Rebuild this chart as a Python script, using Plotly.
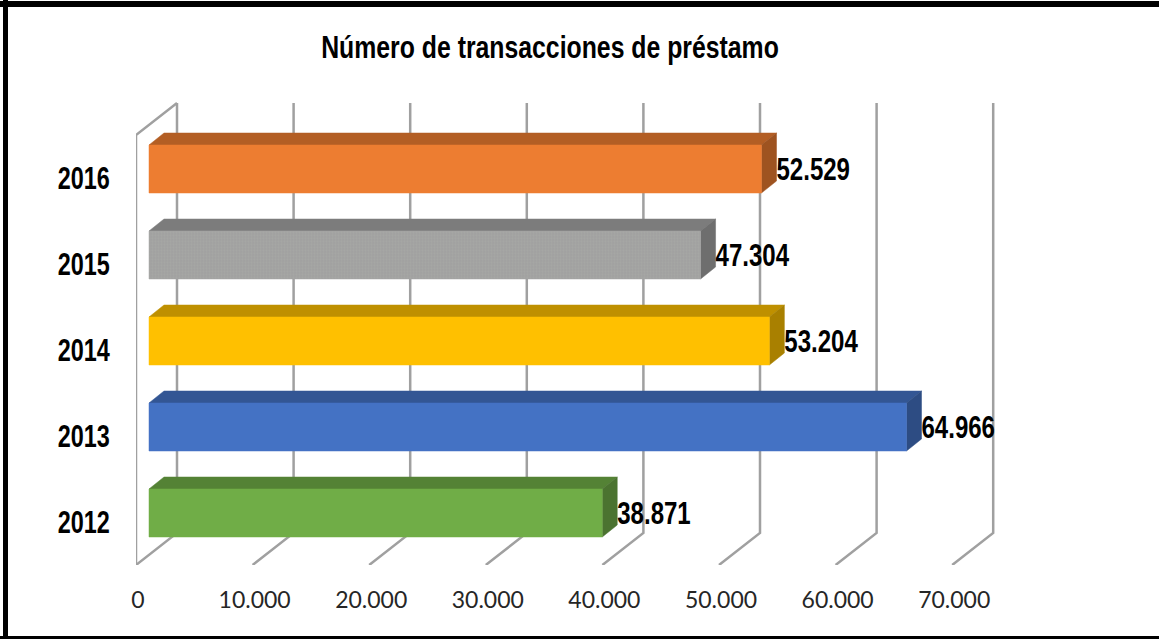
import plotly.graph_objects as go

# ---- data ----
years = [2012, 2013, 2014, 2015, 2016]
values = [38871, 64966, 53204, 47304, 52529]
value_labels = ["38.871", "64.966", "53.204", "47.304", "52.529"]
x_ticks = [0, 10000, 20000, 30000, 40000, 50000, 60000, 70000]
x_tick_labels = ["0", "10.000", "20.000", "30.000", "40.000", "50.000", "60.000", "70.000"]
front_colors = ["#70AD47", "#4472C4", "#FFC000", "#A5A5A5", "#ED7D31"]
top_colors = ["#548235", "#335694", "#BF9000", "#7C7C7C", "#B35E24"]
side_colors = ["#4B7330", "#2D4C83", "#A98000", "#6E6E6E", "#9E5320"]
title_text = "Número de transacciones de préstamo"

# ---- canvas / projection ----
W, H = 1159, 639
PX_L, PX_R, PX_T, PX_B = 136, 1100, 90, 565
PX_PER_X = 116.6 / 10000
PX_PER_Y = 86.0


def dx(px):
    return px / PX_PER_X


def dy(px):
    return px / PX_PER_Y


Y_MIN = 2011.5
Y_MAX = Y_MIN + (PX_B - PX_T) / PX_PER_Y
X_MAX = (PX_R - PX_L) / PX_PER_X

BACK_X, BACK_Y = dx(41), dy(32)       # depth of the walls
BAR_X, BAR_Y = dx(13), dy(9)          # front of the bars
DEPTH_X, DEPTH_Y = dx(15), dy(12)     # bar thickness in depth
BAR_HALF = dy(24)
LABEL_Y = dy(6)
WALL_TOP = 2016.5
BOLD = dict(family="Liberation Sans", size=31, color="#000000", weight="bold")

fig = go.Figure()
GRID = dict(color="#A0A0A0", width=2.5)

# walls
gx, gy = [], []
for t in x_ticks:
    gx += [t, t + BACK_X, t + BACK_X, None]
    gy += [Y_MIN, Y_MIN + BACK_Y, WALL_TOP + BACK_Y, None]
gx += [0, 0, BACK_X]
gy += [Y_MIN, WALL_TOP, WALL_TOP + BACK_Y]
fig.add_trace(go.Scatter(x=gx, y=gy, mode="lines", line=GRID, hoverinfo="skip", showlegend=False))


def poly(xs, ys, color, line=None, pattern=None):
    fig.add_trace(go.Scatter(
        x=xs, y=ys, mode="lines", fill="toself", fillcolor=color,
        line=dict(color=line or color, width=0.5), hoverinfo="skip", showlegend=False,
        fillpattern=pattern,
    ))


for yr, v, fc, tc, sc in zip(years, values, front_colors, top_colors, side_colors):
    x0, x1 = BAR_X, v + BAR_X
    yb, yt = yr + BAR_Y - BAR_HALF, yr + BAR_Y + BAR_HALF
    poly([x0, x1, x1 + DEPTH_X, x0 + DEPTH_X, x0], [yt, yt, yt + DEPTH_Y, yt + DEPTH_Y, yt], tc)
    poly([x1, x1 + DEPTH_X, x1 + DEPTH_X, x1, x1], [yb, yb + DEPTH_Y, yt + DEPTH_Y, yt, yb], sc)
    pattern = dict(shape=".", fgcolor="#ABADA8", bgcolor="#A1A1A1", size=3, solidity=0.3) if yr == 2015 else None
    poly([x0, x1, x1, x0, x0], [yb, yb, yt, yt, yb], fc, pattern=pattern)

# value labels
fig.add_trace(go.Scatter(
    x=[v + BAR_X + DEPTH_X for v in values],
    y=[yr + LABEL_Y for yr in years],
    mode="text", text=value_labels, textposition="middle right",
    textfont=BOLD, hoverinfo="skip", showlegend=False, cliponaxis=False,
))


def px_x(p):
    return (p - PX_L) / (PX_R - PX_L)


def px_y(p):
    return (PX_B - p) / (PX_B - PX_T)


frame = [(3, 0, 8, 639), (0, 1, 1159, 7), (0, 636, 1159, 639)]
shapes = [dict(type="rect", xref="paper", yref="paper", x0=px_x(a), x1=px_x(c), y0=px_y(b), y1=px_y(d),
               fillcolor="#000000", line=dict(width=0), layer="above") for a, b, c, d in frame]

fig.update_layout(
    width=W, height=H, autosize=False,
    margin=dict(l=PX_L, r=W - PX_R, t=PX_T, b=H - PX_B, pad=0),
    paper_bgcolor="#FFFFFF", plot_bgcolor="#FFFFFF",
    title=dict(text=title_text, x=550 / W, xanchor="center", y=1 - 47 / H, yanchor="middle", font=BOLD),
    xaxis=dict(range=[0, X_MAX], tickvals=x_ticks, ticktext=x_tick_labels, showgrid=False, zeroline=False,
               showline=False, ticks="outside", ticklen=14, tickcolor="rgba(0,0,0,0)", ticklabelshift=2,
               tickfont=dict(family="Lato", size=23, color="#262626")),
    yaxis=dict(range=[Y_MIN, Y_MAX], tickvals=years, ticktext=[str(y) for y in years], showgrid=False,
               zeroline=False, showline=False, ticks="outside", ticklen=19, tickcolor="rgba(0,0,0,0)",
               tickfont=BOLD),
    shapes=shapes,
)

# the reference's bold face is a narrow one, which is not installed: condense the bold text
condense = """
document.body.style.margin='0';document.body.style.overflow='hidden';
document.querySelectorAll('svg text').forEach(function(t){
  if (String(t.style.fontWeight) === '700' || t.style.fontWeight === 'bold') {
    var w = t.getComputedTextLength();
    var n = t.textContent.length;
    var f = n > 10 ? 0.80 : (n > 4 ? 0.775 : 0.755);
    t.setAttribute('textLength', w * f);
    t.setAttribute('lengthAdjust', 'spacingAndGlyphs');
  }
});
"""
fig.write_html("out.html", post_script=condense, config={"displayModeBar": False})
